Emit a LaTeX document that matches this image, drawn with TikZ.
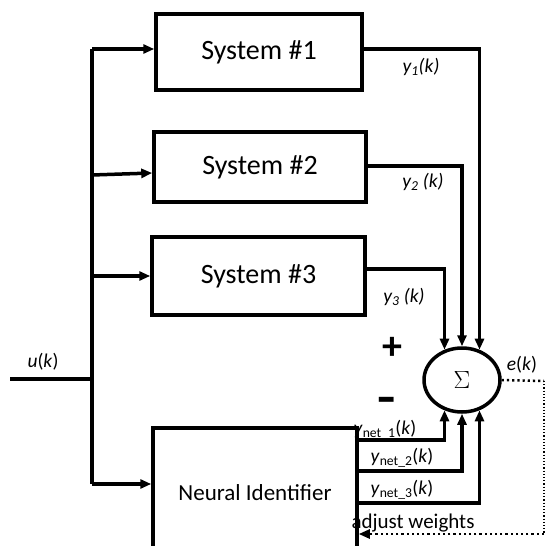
\documentclass[tikz,border=0pt]{standalone}
\usepackage{fontspec}
\usepackage{graphicx}
\setmainfont{Carlito}
\usetikzlibrary{arrows.meta,shapes.geometric}

\begin{document}
\begin{tikzpicture}[x=1pt,y=-1pt,
  blk/.style={draw,line width=3.5pt,rectangle,inner sep=0pt,
    font=\fontsize{28}{30}\selectfont},
  wire/.style={line width=3.5pt},
  tip/.style={-{Triangle[length=11pt,width=9pt]}},
  arr/.style={wire,tip},
  lbl/.style={inner sep=0pt,font=\fontsize{19.5}{22}\selectfont},
  sgn/.style={inner sep=0pt,text height=0.55em,text depth=0pt,
    font=\fontsize{40}{42}\selectfont\bfseries},
  fbdot/.style={line width=2.5pt,dash pattern=on 2.2pt off 3pt},
  fbthin/.style={line width=1.2pt,dash pattern=on 1.2pt off 2pt},
]
\useasboundingbox (0,0) rectangle (545,546);
\clip (0,0) rectangle (545,546);

% plant blocks
\node[blk,minimum width=206pt,minimum height=76pt] (s1) at (259,52) {System \#1};
\node[blk,minimum width=212pt,minimum height=70pt] (s2) at (260,167) {System \#2};
\node[blk,minimum width=213pt,minimum height=78pt] (s3) at (258.5,276) {System \#3};
% identifier block (its lower edge runs off the page)
\node[blk,minimum width=204pt,minimum height=130pt,
      font=\fontsize{23}{25}\selectfont] (ni) at (255,493) {Neural Identifier};

% summing junction
\node[draw,ellipse,line width=3.5pt,inner sep=0pt,minimum width=76pt,
      minimum height=64pt,font=\fontsize{32}{34}\selectfont] (sum) at (462,380) {$\Sigma$};

% input and distribution bus
\coordinate (in) at (10,379);
\coordinate (bus) at (92,379);
\coordinate (t1) at (92,49);
\coordinate (t2) at (92,175);
\coordinate (t3) at (92,276);
\coordinate (t4) at (92,484);
\draw[wire] (in) -- (bus);
\draw[wire] (t1) -- (t4);
\draw[arr] (t1) -- (t1 -| s1.west);
\draw[arr] (t2) -- ([yshift=-6pt]s2.west);
\draw[arr] (t3) -- (t3 -| s3.west);
\draw[arr] (t4) -- (t4 -| ni.west);

% plant outputs into the junction
\draw[arr] (s1.east |- 0,49) -| (sum.60);
\draw[arr] (s2.east |- 0,166) -| (sum.90);
\draw[arr] (s3.east |- 0,269) -| (sum.120);

% identifier outputs into the junction
\draw[arr] (ni.east |- 0,440) -| (sum.240);
\draw[arr] (ni.east |- 0,471) -| (sum.270);
\draw[arr] (ni.east |- 0,503) -| (sum.300);

% error feedback to the identifier
\coordinate (fbR) at (544,381);
\coordinate (fbB) at (544,534);
\draw[fbdot] (sum.east) -- (fbR);
\draw[fbthin] (fbR) -- (fbB);
\draw[fbdot,tip] (fbB) -- (fbB -| ni.east);

% labels
\node[lbl] (lu) at (43,362) {\textit{u}(\textit{k})};
\node[lbl] (ly1) at (421,67) {\textit{y\textsubscript{1}(k)}};
\node[lbl] (ly2) at (423,182) {\textit{y\textsubscript{2} (k)}};
\node[lbl] (ly3) at (404,297) {\textit{y\textsubscript{3} (k)}};
\node[lbl] (le) at (522,365) {\textit{e}(\textit{k})};
\node[lbl] (ln1) at (385,430) {\textit{y}\textsubscript{net\_1}(\textit{k})};
\node[lbl] (ln2) at (402,458) {\textit{y}\textsubscript{net\_2}(\textit{k})};
\node[lbl] (ln3) at (402,490) {\textit{y}\textsubscript{net\_3}(\textit{k})};
\node[lbl,font=\fontsize{21}{23}\selectfont] (ladj) at (413,523) {adjust weights};
\node[sgn] (plus) at (392,357) {+};
\node[sgn] (minus) at (387,399) {\raisebox{-12pt}{\scalebox{1.5}[1.2]{-}}};
\end{tikzpicture}
\end{document}
